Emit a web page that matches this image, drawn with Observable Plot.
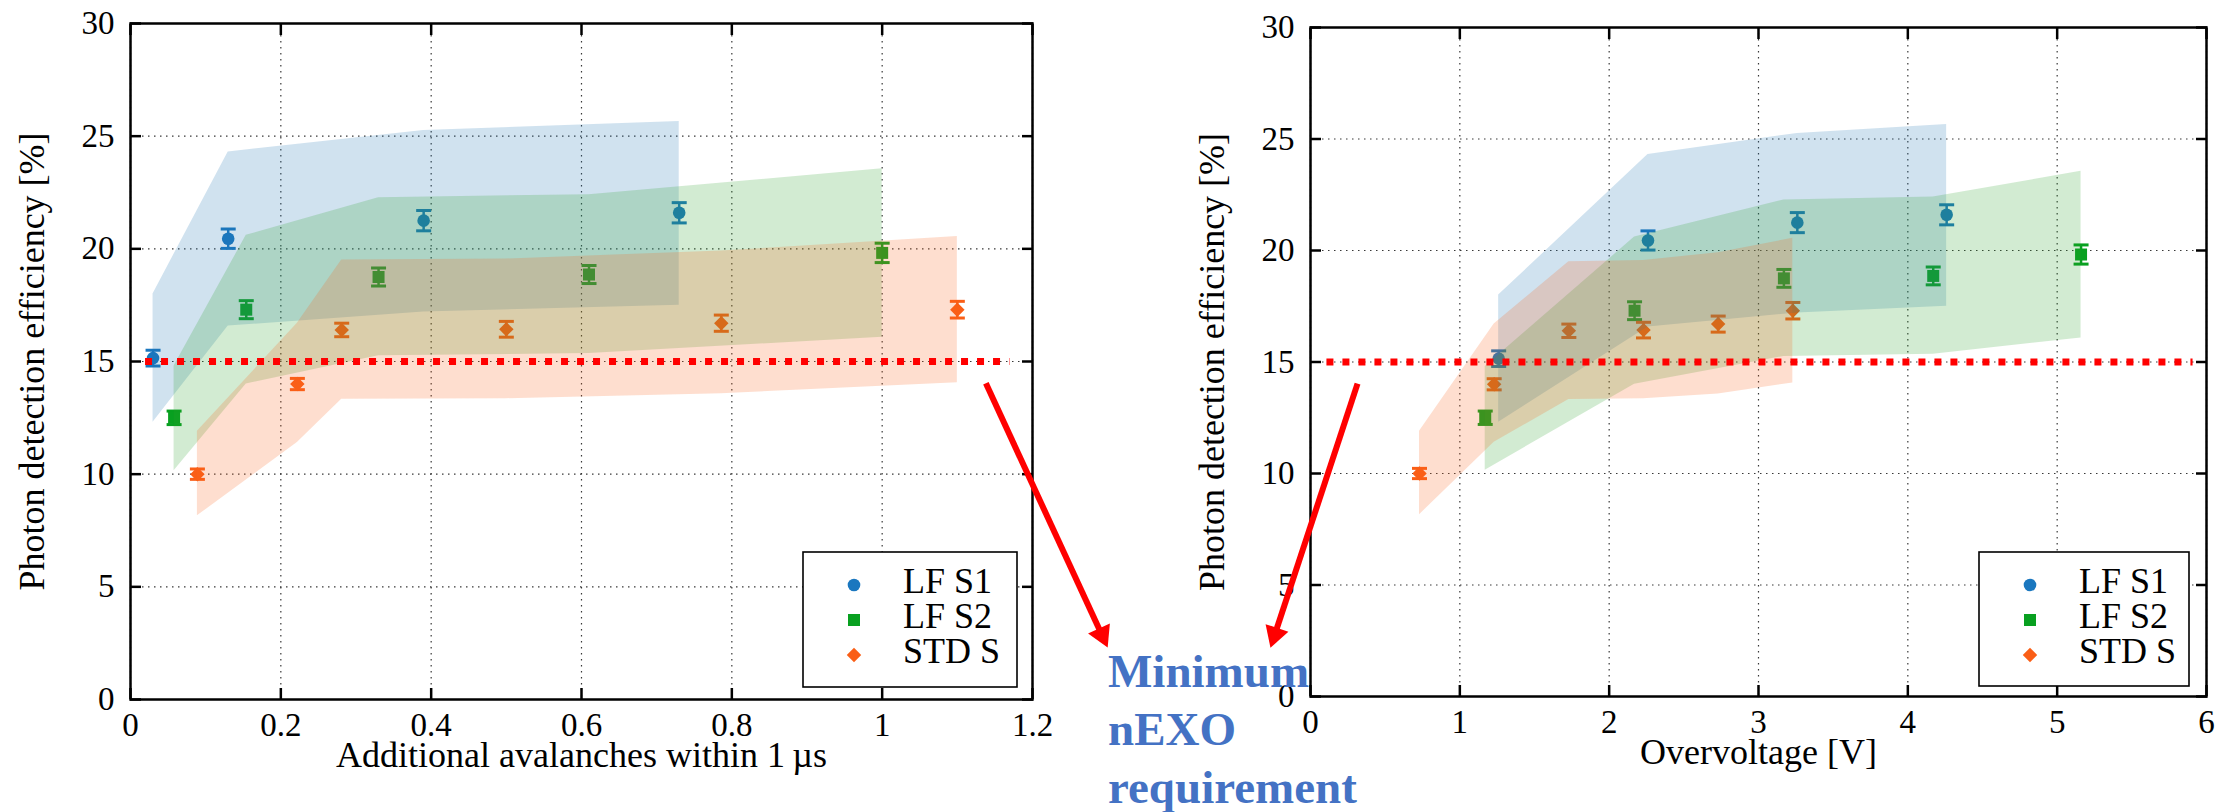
<!DOCTYPE html>
<html>
<head>
<meta charset="utf-8">
<script src="https://cdn.jsdelivr.net/npm/d3@7"></script>
<script src="https://cdn.jsdelivr.net/npm/@observablehq/plot@0.6"></script>
<style>
  html, body { margin: 0; padding: 0; background: #fff; }
  #fig { position: relative; width: 2236px; height: 812px; overflow: hidden; background: #fff; }
  #left { position: absolute; left: 0; top: 0; width: 1130px; height: 812px; }
  #right { position: absolute; left: 1150px; top: 0; width: 1086px; height: 812px; }
  #note {
    position: absolute; left: 1108px; top: 642px; z-index: 2;
    color: #4472c4; font: bold 47px/58px "Liberation Serif", serif; white-space: nowrap;
  }
  svg { max-width: none !important; }
  svg text { font-family: "Liberation Serif", serif; }
</style>
</head>
<body>
<div id="fig">
  <div id="left"></div>
  <div id="right"></div>
  <div id="note">Minimum<br>nEXO<br>requirement</div>
</div>
<script>
// ---- series ----
const series = ["LF S1", "LF S2", "STD S"];
const colors = ["#1a77bf", "#08a020", "#fa5e16"];
const bandColors = ["#1f77b4", "#2ca02c", "#f9651d"];
const symbols = ["circle", "square", "diamond2"];

// additional avalanches within 1 µs
const avalS1 = [0.03, 0.13, 0.39, 0.73];
const avalS2 = [0.058, 0.154, 0.33, 0.61, 1.0];
const avalStd = [0.089, 0.222, 0.281, 0.5, 0.786, 1.1];

// overvoltage [V]
const ovS1 = [1.26, 2.26, 3.26, 4.26];
const ovS2 = [1.17, 2.17, 3.17, 4.17, 5.16];
const ovStd = [0.73, 1.23, 1.73, 2.23, 2.73, 3.23];

// photon detection efficiency [%] and statistical errors
const pdeS1 = [15.15, 20.45, 21.25, 21.6];
const pdeS2 = [12.5, 17.3, 18.75, 18.86, 19.82];
const pdeStd = [10.0, 14.0, 16.4, 16.43, 16.7, 17.3];
const errS1 = [0.35, 0.43, 0.45, 0.45];
const errS2 = [0.3, 0.4, 0.4, 0.4, 0.43];
const errStd = [0.23, 0.25, 0.3, 0.35, 0.36, 0.37];

// systematic bands (lower / upper PDE)
const bandLoS1 = [12.3, 16.57, 17.2, 17.5];
const bandHiS1 = [18.0, 24.3, 25.25, 25.65];
const bandLoS2 = [10.15, 14.0, 15.25, 15.35, 16.08];
const bandHiS2 = [14.8, 20.6, 22.27, 22.4, 23.55];
const bandLoStd = [8.15, 11.4, 13.32, 13.35, 13.57, 14.06];
const bandHiStd = [11.9, 16.7, 19.5, 19.55, 19.9, 20.55];

// axes
const yTicks = [0, 5, 10, 15, 20, 25, 30];
const avalTicks = [0, 0.2, 0.4, 0.6, 0.8, 1, 1.2];
const ovTicks = [0, 1, 2, 3, 4, 5, 6];
const yLabel = "Photon detection efficiency [%]";
const avalLabel = "Additional avalanches within 1\u2009\u00b5s";
const ovLabel = "Overvoltage [V]";

// nEXO minimum requirement and the pointers to its note
const requirement = 15;
const avalReqSpan = [0.02, 1.17];
const ovReqSpan = [0.11, 5.91];
const avalPointer = {x1: 1.138, y1: 14.03, x2: 1.300, y2: 2.31};
const ovPointer = {x1: 0.315, y1: 14.03, x2: -0.268, y2: 2.19};

const pdeCols = [pdeS1, pdeS2, pdeStd];
const errCols = [errS1, errS2, errStd];
const loCols = [bandLoS1, bandLoS2, bandLoStd];
const hiCols = [bandHiS1, bandHiS2, bandHiStd];

function tableFor(xCols) {
  return series.map((s, k) => xCols[k].map((x, i) => ({
    series: s, x, y: pdeCols[k][i], err: errCols[k][i], lo: loCols[k][i], hi: hiCols[k][i]
  })));
}

const FONT = '"Liberation Serif", serif';
const H = 812;
const headSide = 24;
const fmt = d => String(d);

const capSymbol = {draw(ctx) { ctx.moveTo(-7.5, 0); ctx.lineTo(7.5, 0); }};
const dotR = [6.3, 6.77, 6.5];

function drawPanel(p) {
  const tables = tableFor(p.xCols);
  const sx = d3.scaleLinear(p.xDomain, [p.marginLeft, p.width - p.marginRight]);
  const sy = d3.scaleLinear([0, 30], [H - p.marginBottom, p.marginTop]);
  const a = p.pointer;
  const vx = sx(a.x2) - sx(a.x1), vy = sy(a.y2) - sy(a.y1);
  const len = Math.hypot(vx, vy), ux = vx / len, uy = vy / len;
  const angle = Math.atan2(ux, -uy) * 180 / Math.PI;
  const tipDist = headSide / Math.sqrt(3);
  const headArea = 3 * Math.sqrt(3) * (headSide / (2 * Math.sqrt(3))) ** 2;

  const gridStyle = {stroke: "#222", strokeOpacity: 0.9, strokeWidth: 1.2, strokeDasharray: "1.5,4.5"};
  const marks = [
    Plot.gridX({ticks: p.xTicks, ...gridStyle}),
    Plot.gridY({ticks: yTicks, ...gridStyle})
  ];
  tables.forEach((rows, k) => {
    marks.push(
      Plot.ruleX(rows, {x: "x", y1: d => d.y - d.err, y2: d => d.y + d.err, stroke: colors[k], strokeWidth: 2.5}),
      Plot.dot(rows, {x: "x", y: d => d.y - d.err, symbol: capSymbol, fill: "none", stroke: colors[k], strokeWidth: 3}),
      Plot.dot(rows, {x: "x", y: d => d.y + d.err, symbol: capSymbol, fill: "none", stroke: colors[k], strokeWidth: 3}),
      Plot.dot(rows, {x: "x", y: "y", symbol: symbols[k], r: dotR[k], fill: colors[k]})
    );
  });
  tables.forEach((rows, k) => {
    marks.push(Plot.areaY(rows, {x: "x", y1: "lo", y2: "hi", fill: bandColors[k], fillOpacity: 0.21}));
  });
  marks.push(
    Plot.ruleY([requirement], {x1: p.reqSpan[0], x2: p.reqSpan[1], stroke: "#ff0000", strokeWidth: 7, strokeDasharray: "7,9"}),
    Plot.frame({stroke: "#000", strokeWidth: 2.5}),
    Plot.axisX({anchor: "bottom", ticks: p.xTicks, tickSize: -11, strokeWidth: 2.5, text: null, label: null}),
    Plot.axisX({anchor: "top", ticks: p.xTicks, tickSize: -11, strokeWidth: 2.5, text: null, label: null}),
    Plot.axisY({anchor: "left", ticks: yTicks, tickSize: -11, strokeWidth: 2.5, text: null, label: null}),
    Plot.axisY({anchor: "right", ticks: yTicks, tickSize: -11, strokeWidth: 2.5, text: null, label: null}),
    Plot.axisX({anchor: "bottom", ticks: p.xTicks, tickSize: 0, tickPadding: 13, tickFormat: fmt, label: null, fontFamily: FONT}),
    Plot.axisY({anchor: "left", ticks: yTicks, tickSize: 0, tickPadding: 16, tickFormat: fmt, label: null, fontFamily: FONT}),
    Plot.text([p.xLabel], {frameAnchor: "bottom", textAnchor: "middle", dy: 67.5, fontSize: 36, fontFamily: FONT}),
    Plot.text([yLabel], {frameAnchor: "left", textAnchor: "middle", dx: -98.5, rotate: -90, fontSize: 36, fontFamily: FONT}),
    Plot.arrow([a], {x1: "x1", y1: "y1", x2: "x2", y2: "y2", stroke: "#ff0000", strokeWidth: 6,
      headLength: 0, insetEnd: 12, strokeLinecap: "butt"}),
    Plot.dot([a], {x: "x2", y: "y2", symbol: "triangle", r: Math.sqrt(headArea / Math.PI),
      fill: "#ff0000", rotate: angle, dx: -ux * tipDist, dy: -uy * tipDist})
  );

  const chart = Plot.plot({
    width: p.width, height: H,
    marginLeft: p.marginLeft, marginRight: p.marginRight,
    marginTop: p.marginTop, marginBottom: p.marginBottom,
    x: {domain: p.xDomain},
    y: {domain: [0, 30]},
    style: {fontFamily: FONT, fontSize: "33px", color: "#000", background: "#fff", overflow: "visible"},
    marks
  });

  // legend box, lower right of the frame
  const g = d3.select(chart).append("g").attr("font-family", FONT).attr("text-anchor", "start");
  const L = p.legend;
  g.append("rect").attr("x", L.x).attr("y", L.y).attr("width", L.w).attr("height", L.h)
    .attr("fill", "#fff").attr("stroke", "#000").attr("stroke-width", 1.6);
  const legendSym = [d3.symbolCircle, d3.symbolSquare, d3.symbolDiamond2];
  series.forEach((s, i) => {
    const cy = L.y + 33 + i * 35;
    g.append("path").attr("transform", `translate(${L.x + 51},${cy})`)
      .attr("d", d3.symbol(legendSym[i], Math.PI * dotR[i] * dotR[i])()).attr("fill", colors[i]);
    g.append("text").attr("x", L.x + 100).attr("y", cy + 7.5).attr("font-size", 36)
      .attr("text-anchor", "start").attr("fill", "#000").text(s);
  });

  document.querySelector(p.el).append(chart);
}

drawPanel({
  el: "#left", width: 1130, marginLeft: 130, marginRight: 98, marginTop: 23, marginBottom: 113,
  xDomain: [0, 1.2], xTicks: avalTicks, xLabel: avalLabel, xCols: [avalS1, avalS2, avalStd],
  reqSpan: avalReqSpan, pointer: avalPointer, legend: {x: 803, y: 552, w: 214, h: 135}
});
drawPanel({
  el: "#right", width: 1086, marginLeft: 160, marginRight: 30, marginTop: 27, marginBottom: 116,
  xDomain: [0, 6], xTicks: ovTicks, xLabel: ovLabel, xCols: [ovS1, ovS2, ovStd],
  reqSpan: ovReqSpan, pointer: ovPointer, legend: {x: 829, y: 552, w: 210, h: 134}
});
</script>
</body>
</html>
